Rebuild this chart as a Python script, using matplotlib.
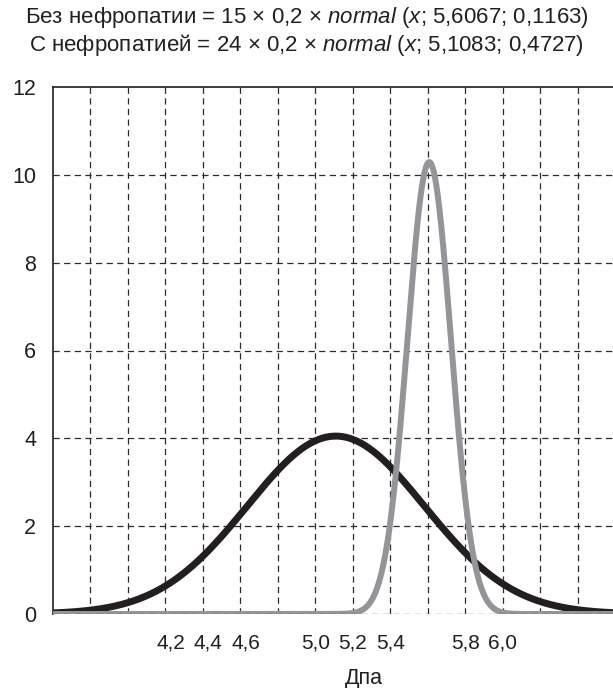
import numpy as np
import matplotlib
matplotlib.use("Agg")
import matplotlib.pyplot as plt
import matplotlib.transforms as mtransforms

plt.rcParams['font.family'] = ['Liberation Sans', 'DejaVu Sans']
plt.rcParams['mathtext.fontset'] = 'custom'
plt.rcParams['mathtext.rm'] = 'Liberation Sans'
plt.rcParams['mathtext.it'] = 'Liberation Sans:italic'

# Data (from the formulas given in the chart title)
series_names = ["Без нефропатии", "С нефропатией"]
series_n = [15, 24]
bin_width = 0.2
series_mean = [5.6067, 5.1083]
series_sd = [0.1163, 0.4727]
series_colors = ["#939598", "#231f20"]

x_ticks = [4.2, 4.4, 4.6, 5.0, 5.2, 5.4, 5.8, 6.0]
x_tick_labels = ["4,2", "4,4", "4,6", "5,0", "5,2", "5,4", "5,8", "6,0"]
y_ticks = [0, 2, 4, 6, 8, 10, 12]
x_grid = [3.8, 4.0, 4.2, 4.4, 4.6, 4.8, 5.0, 5.2, 5.4, 5.6, 5.8, 6.0, 6.2, 6.4, 6.6]
x_min, x_max = 3.6, 6.587
x_label = "Дпа"

W, H = 613, 688
fig = plt.figure(figsize=(W / 100, H / 100), dpi=100)
ax = fig.add_axes([53 / W, 74 / H, (W - 53) / W, 527 / H])

x = np.linspace(x_min, x_max, 1500)
def curve(n, m, s):
    return n * bin_width * np.exp(-0.5 * ((x - m) / s) ** 2) / (s * np.sqrt(2 * np.pi))

# black curve (with nephropathy), then gray on top
ax.plot(x, curve(series_n[1], series_mean[1], series_sd[1]), color=series_colors[1],
        lw=5.0, zorder=3, solid_capstyle='butt')
ax.plot(x, curve(series_n[0], series_mean[0], series_sd[0]), color=series_colors[0],
        lw=4.3, zorder=4, solid_capstyle='butt')

grid_kw = dict(color="#2b2b2b", lw=0.9, dashes=(5, 3.5))
for gx in x_grid:
    ax.axvline(gx, zorder=1, **grid_kw)
for gy in y_ticks[1:-1]:
    ax.axhline(gy, zorder=1, **grid_kw)
ax.axhline(0, zorder=6, **grid_kw)

ax.set_xlim(x_min, x_max)
ax.set_ylim(0, 12)
ax.set_yticks(y_ticks)
ax.set_yticklabels([str(v) for v in y_ticks])
ax.set_xticks(x_ticks)
ax.set_xticklabels(x_tick_labels)
ax.tick_params(axis='both', length=0, colors="#231f20")
ax.tick_params(axis='x', pad=14, labelsize=15)
ax.tick_params(axis='y', pad=12, labelsize=15.5)

# shift first three x labels slightly right, as in the reference
for lab, v in zip(ax.get_xticklabels(), x_ticks):
    if v < 5.0:
        lab.set_transform(lab.get_transform() + mtransforms.ScaledTranslation(5 / 100, 0, fig.dpi_scale_trans))

for side in ['right', 'bottom']:
    ax.spines[side].set_visible(False)
for side in ['left', 'top']:
    ax.spines[side].set_linewidth(1.2)
    ax.spines[side].set_color("#231f20")

fig.text(364 / W, 1 - 684 / H, x_label, ha='center', va='baseline',
         fontsize=15.5, color="#231f20")

fig.text(0.5, 1 - 18 / H,
         "Без нефропатии = 15 × 0,2 × $\\mathit{normal}$ ($\\mathit{x}$; 5,6067; 0,1163)",
         ha='center', va='center', fontsize=16, color="#231f20")
fig.text(0.5, 1 - 45 / H,
         "С нефропатией = 24 × 0,2 × $\\mathit{normal}$ ($\\mathit{x}$; 5,1083; 0,4727)",
         ha='center', va='center', fontsize=16, color="#231f20")

fig.savefig("out.png", dpi=100)
